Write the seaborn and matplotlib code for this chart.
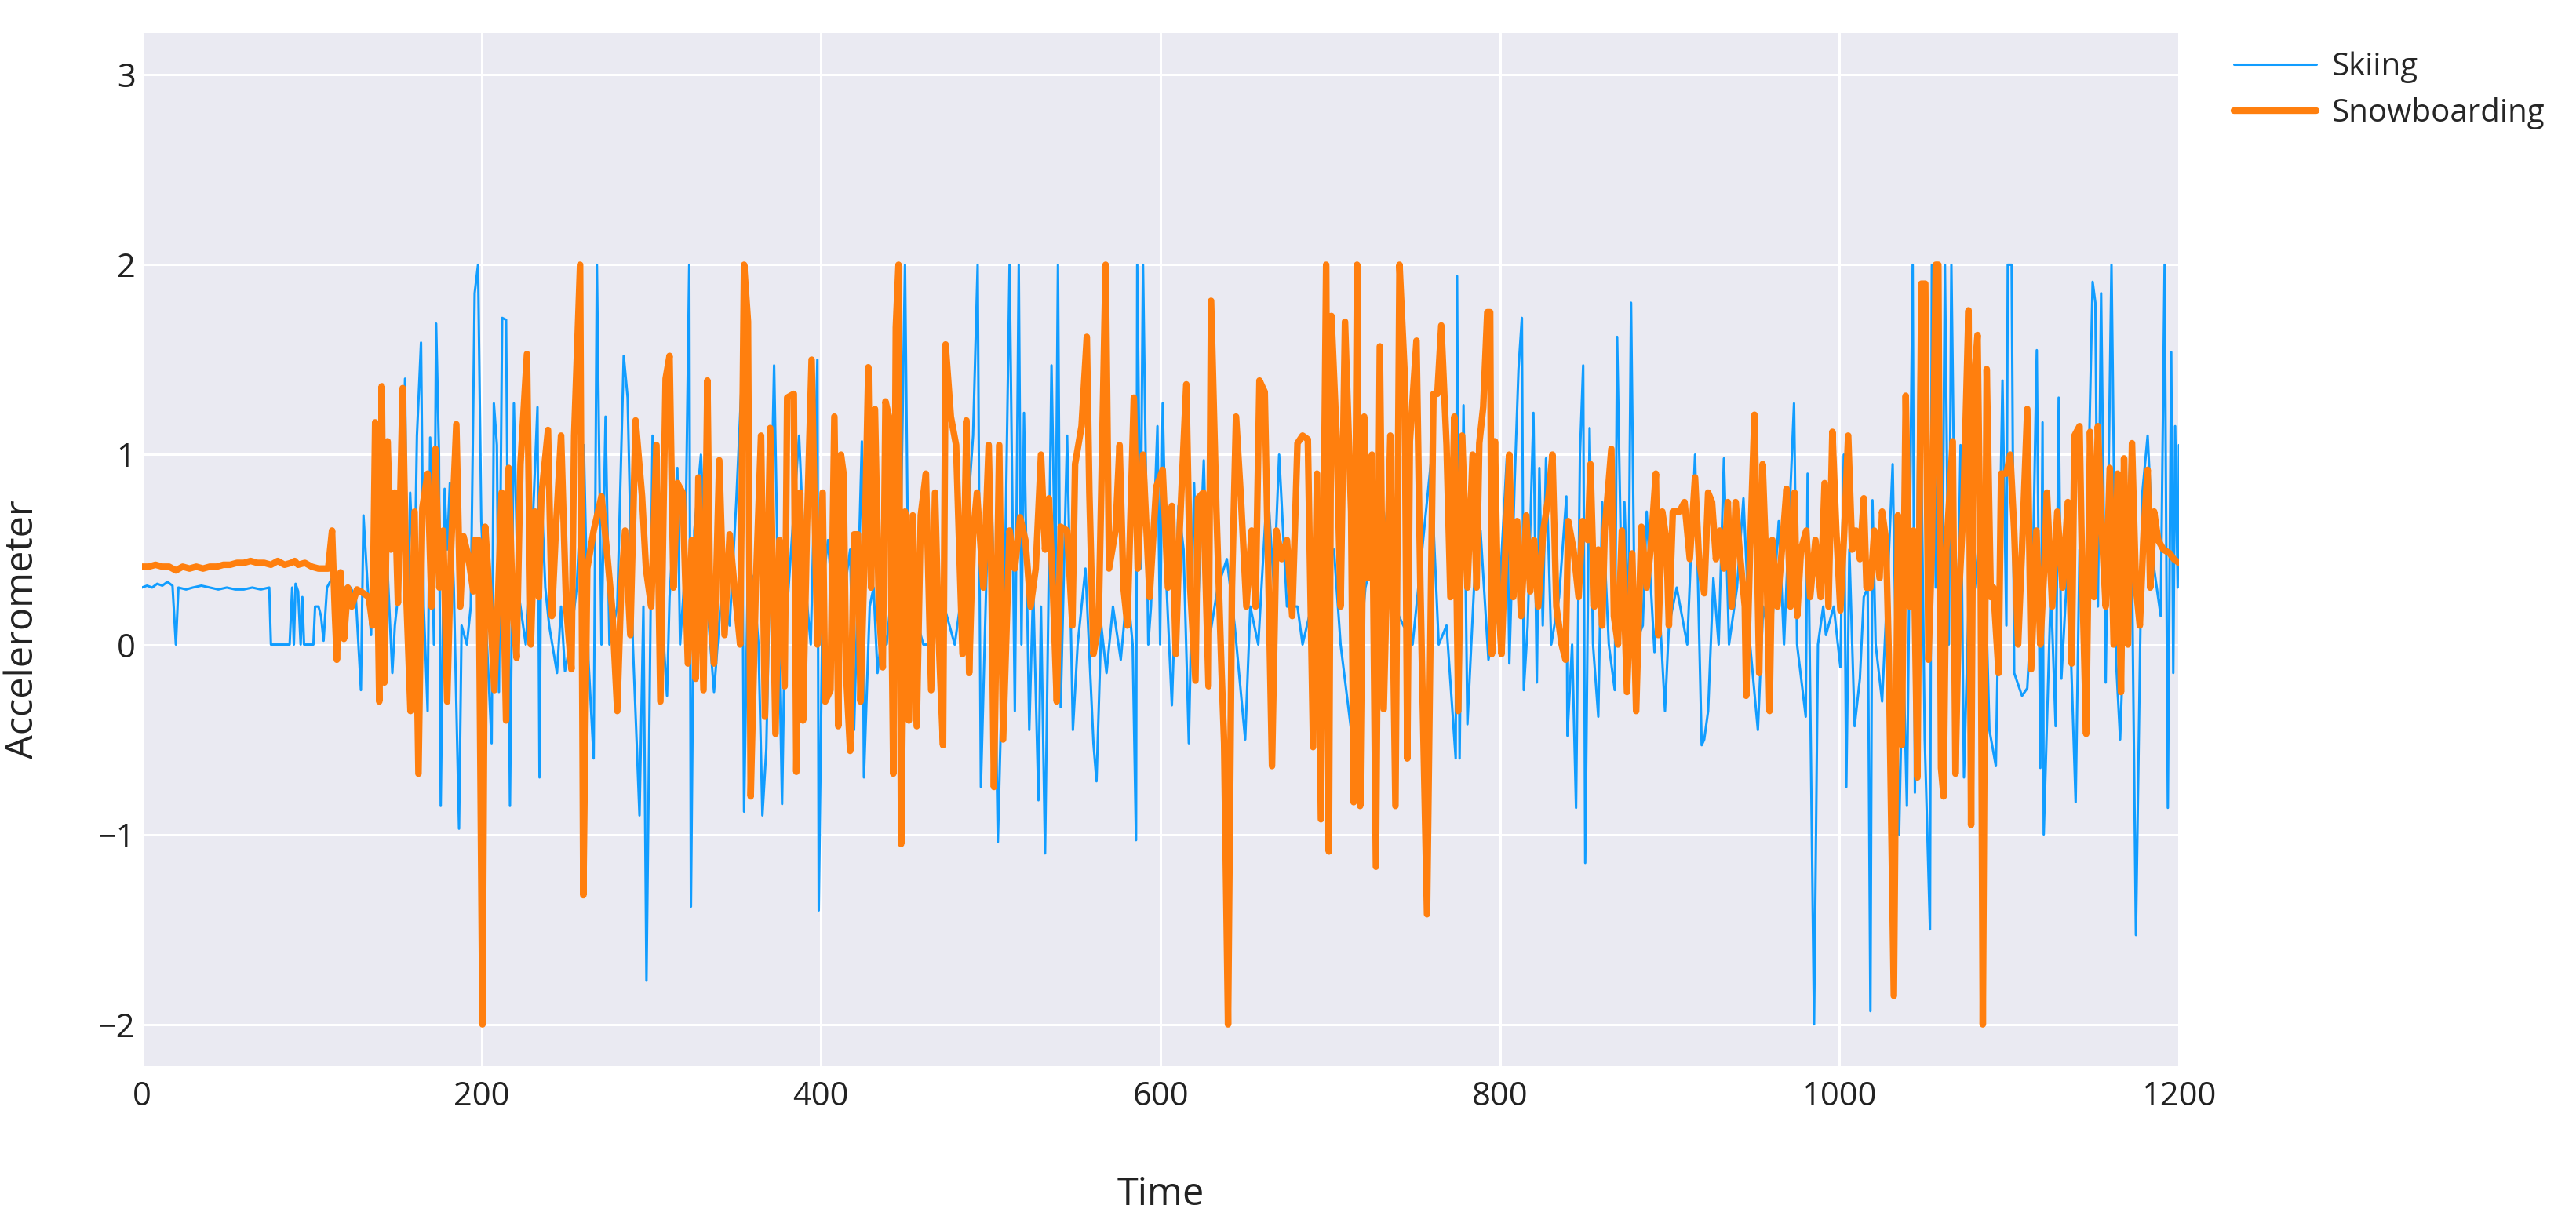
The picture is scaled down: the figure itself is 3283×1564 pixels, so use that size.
import matplotlib.pyplot as plt
import pandas as pd
import seaborn as sns

# (time, accelerometer) pairs
skiing = [
    (0, .30), (3, .31), (6, .30), (9, .32), (12, .31), (15, .33), (18, .31), (20, 0.0), (21.5, .30),
    (26, .29), (30, .30), (35, .31), (40, .30), (45, .29), (50, .30), (55, .29), (60, .29), (65, .30),
    (70, .29), (75, .30), (76, 0.0), (87, 0.0), (88.5, .30), (89.5, 0.0), (90.5, .32), (92, .28),
    (93.5, 0.0), (94.5, .25), (95.5, 0.0), (101, 0.0), (102, .20), (104, .20), (105.5, .15), (107, .02),
    (109, .30), (112, .35), (116, .25), (119, .3), (122.8, .30), (126, .25), (129, -.24), (130.5, .68),
    (133, .3), (135, .05), (136, .5), (140.5, .15), (143.6, .6), (147.5, -.15), (149, .1), (152, .35),
    (155, 1.4), (156.4, 0.0), (158, .8), (160.5, .25), (162, 1.1), (164.4, 1.59), (166, .2), (168.3, -.35),
    (169.8, 1.09), (172, 0.0), (173.3, 1.69), (175, 1.0), (176, -.85), (178.3, .82), (179.8, .5),
    (181.4, .85), (183.7, .3), (186.8, -.97), (188.3, .1), (191.4, 0.0), (193.7, .2), (196, 1.85),
    (198, 2.0), (199.9, .65), (202.2, .2), (206, -.52), (207.3, 1.27), (209.1, 1.05), (210.3, -.25),
    (212.2, 1.72), (214.5, 1.71), (216.8, -.85), (219.1, 1.27), (221.4, .3), (226.1, 0.0), (229.1, .4),
    (233, 1.25), (234.2, -.7), (235.3, .8), (237.6, .3), (239.9, .1), (244.5, -.15), (246.9, .2),
    (249.2, -.14), (252.2, 0.0), (256.1, .3), (260.3, 1.05), (263, -.08), (266.1, -.6), (268, 2.0),
    (270.7, 0.0), (273.1, 1.2), (275.4, 0.0), (280, .2), (283.8, 1.52), (286.1, 1.3), (289.2, 0.0),
    (293.1, -.9), (295.4, .2), (297.2, -1.77), (300.8, 1.1), (304.6, .4), (309.3, -.27), (310.8, .25),
    (315.4, .93), (317, 0.0), (320, .4), (322.4, 2.0), (323.4, -1.38), (325.4, .6), (329.3, 1.0),
    (333.1, .2), (337, -.25), (341.6, .3), (346.2, .1), (350.1, .75), (353.2, 1.37), (354.7, -.88),
    (357, .4), (360.1, .35), (363.2, 0.0), (365.5, -.9), (367.8, -.55), (372.4, 1.47), (374.7, .3),
    (377.1, -.84), (378.6, 0.0), (383.2, .6), (387.1, 1.1), (391, .3), (394, 0.0), (397.9, 1.5),
    (398.7, -1.4), (401, .3), (404.1, .55), (407.1, .2), (411, 0.0), (414.1, .3), (417.2, .5),
    (419.5, -.45), (421.8, .3), (424.1, 1.07), (425.3, -.7), (428.7, .2), (431, .3), (433.3, -.15),
    (436.4, .1), (438.7, 0.0), (441.8, .3), (444.1, 0.0), (447.2, .7), (449.5, 2.0), (451.1, .6),
    (454.1, .2), (460.3, 0.0), (464.9, 0.0), (469.5, .3), (475.7, .1), (478.8, 0.0), (483.4, .3),
    (489.6, 1.1), (492.3, 2.0), (494.2, -.75), (497.3, .3), (499.6, 1.06), (501.9, .3), (504.2, -1.04),
    (505.8, -.48), (508.1, .2), (511.1, 2.0), (514.2, -.35), (516.5, 2.0), (518.1, 0.0), (519.6, 1.22),
    (522.7, -.45), (525, .3), (528.1, -.82), (529.6, .2), (532, -1.1), (535.8, 1.47), (538.1, .3),
    (539.6, 2.0), (541.2, -.33), (545, 1.1), (548.4, -.45), (551.2, 0.0), (555.8, .4), (560.5, -.52),
    (562.3, -.72), (565.1, .1), (568.2, -.15), (572, .2), (576.6, -.08), (580.5, .3), (583.6, 0.0),
    (585.6, -1.03), (586.3, 2.0), (588.2, .4), (589.7, 2.0), (592.8, 0.0), (594.4, .2), (598.2, 1.15),
    (599.8, 0.0), (601.3, 1.27), (603.6, .3), (606.7, -.32), (610.6, .73), (613.6, .5), (616.7, -.52),
    (619.8, .85), (622.1, .2), (625.5, .97), (628.3, 0.0), (633.7, .3), (639.1, .45), (643.7, .1),
    (649.9, -.5), (652.9, .2), (657.6, 0.0), (663, .85), (666.8, .3), (669.9, 1.0), (674.5, .2),
    (680.7, .2), (683.7, 0.0), (691.5, .3), (702.2, .5), (706.1, 0.0), (713, -.5), (720.7, .3),
    (731.5, .7), (737.7, .2), (748.5, 0.0), (759.2, .95), (763.9, 0.0), (768.5, .1), (773.9, -.6),
    (774.7, 1.94), (776.2, -.6), (778.5, 1.26), (780.8, -.42), (784.7, .3), (788.5, .6), (793.2, -.08),
    (799.3, .2), (804, .98), (805.5, -.1), (808.6, .85), (810.9, 1.45), (812.9, 1.72), (814, -.24),
    (816.3, .1), (819.7, 1.22), (821.7, -.2), (823.2, .93), (825.2, .1), (827.1, .98), (830.2, 0.0),
    (834.8, .25), (839.1, .78), (839.7, -.48), (842.5, 0.0), (844.8, -.86), (847.1, 1.0), (849, 1.47),
    (850.2, -1.15), (852.8, 1.14), (854.8, 0.0), (857.9, -.38), (860.2, .75), (864.1, 0.0), (867.6, -.24),
    (869, 1.62), (871.8, .2), (873.3, .75), (875.6, .1), (877.2, 1.8), (879.5, 0.0), (884.1, .1),
    (886.4, .7), (891, -.04), (893.3, .3), (897.2, -.35), (899.5, .1), (904.1, .3), (910.3, 0.0),
    (914.9, 1.0), (918.8, -.53), (920.3, -.5), (922.6, -.35), (925.7, .35), (928.8, 0.0), (931.9, .98),
    (934.9, 0.0), (939.6, .3), (943.4, .77), (947.3, 0.0), (951.9, -.45), (955, .2), (959.6, 0.0),
    (964.2, .65), (967.3, 0.0), (973.2, 1.27), (975, 0.0), (980.1, -.38), (981.2, .9), (985, -2.0),
    (987.3, 0.0), (990.4, .2), (992, .05), (996.6, .2), (1000.5, -.12), (1002.5, 1.0), (1004, -.75),
    (1005.8, .5), (1008.9, -.43), (1012, -.18), (1014.3, .25), (1016.6, .3), (1018.2, -1.93),
    (1019.4, .76), (1021.3, 0.0), (1025.1, -.3), (1028.2, .3), (1031.3, .95), (1035.1, -1.0),
    (1037.4, 0.0), (1039.7, -.85), (1043.1, 2.0), (1044.4, -.78), (1047.1, 1.79), (1050.2, -.5),
    (1053.3, -1.5), (1054.4, 2.0), (1056.7, .3), (1059, 2.0), (1060.5, .2), (1062.1, 2.0), (1064.4, 0.0),
    (1065.9, 2.0), (1069, -.25), (1071.3, 1.05), (1073.3, -.7), (1076, .2), (1079.8, .3), (1084.4, .83),
    (1088.3, -.45), (1092.1, -.64), (1096, 1.39), (1098.3, .1), (1099.1, 2.0), (1101.4, 2.0),
    (1102.9, -.15), (1107.5, -.27), (1110.6, -.23), (1113.7, .3), (1116.2, 1.55), (1118.3, -.65),
    (1119.6, 1.17), (1120.3, -1.0), (1124.5, .3), (1127.3, -.43), (1129.1, 1.3), (1130.7, -.18),
    (1134.5, .45), (1139.1, -.83), (1141.4, .5), (1144.5, 0.0), (1149.1, 1.91), (1150.7, 1.8),
    (1152.2, .2), (1154.1, 1.85), (1156.8, -.2), (1160.2, 2.0), (1163, -.1), (1165.3, -.5), (1168.4, .3),
    (1171.5, 1.06), (1174.6, -1.53), (1178.4, .8), (1181.5, 1.1), (1185.3, .4), (1189.2, .15),
    (1191.5, 2.0), (1193.4, -.86), (1195.4, 1.54), (1196.6, -.15), (1197.7, 1.15), (1199.2, .3),
    (1200, 1.05),
]

snowboarding = [
    (0, .41), (4, .41), (8, .42), (12, .41), (16, .41), (20, .39), (24, .41), (28, .40), (32, .41),
    (36, .40), (40, .41), (44, .41), (48, .42), (52, .42), (56, .43), (60, .43), (64, .44), (68, .43),
    (72, .43), (76, .42), (80, .44), (84, .42), (88, .43), (90, .44), (92, .42), (96, .43), (100, .41),
    (104, .40), (108, .40), (109.7, .40), (112, .6), (113.6, .18), (114.8, -.08), (117, .38), (119, .03),
    (121.3, .3), (123.6, .2), (126.7, .29), (130.5, .27), (133.6, .25), (135.9, .1), (137.4, 1.17),
    (139.8, -.3), (141.3, 1.36), (142.8, -.2), (144.7, 1.07), (146.7, .5), (149, .8), (150.8, .22),
    (153.6, 1.35), (155.9, .22), (158.2, -.35), (160.6, .7), (162.9, -.68), (165.2, .72), (168.3, .9),
    (170.6, .2), (172.9, 1.03), (175.2, .3), (177.5, .6), (179.8, -.3), (182.1, .5), (185.2, 1.16),
    (187.5, .2), (189.4, .57), (192.1, .47), (195.2, .28), (196, .55), (198.3, .55), (200.6, -2.0),
    (202.2, .62), (204.5, .3), (207.6, -.24), (209.9, .28), (211.9, .8), (214.5, -.4), (216, .93),
    (218.4, .2), (220.7, -.07), (223, .95), (226.8, 1.53), (229.1, 0.0), (231.5, .7), (233.8, .25),
    (235.3, .78), (239.2, 1.13), (241.5, .15), (243.8, .6), (246.9, 1.1), (249.9, .2), (253, -.13),
    (254.6, 1.1), (258.1, 2.0), (260, -1.32), (262.3, .4), (266.1, .6), (270.7, .78), (273.8, .5),
    (276.9, .2), (280, -.35), (282.3, .3), (284.6, .6), (287.7, .05), (290.8, 1.18), (294.6, .78),
    (296.9, .4), (300, .2), (303.1, 1.05), (305.4, -.3), (308.5, 1.4), (310.8, 1.52), (313.1, .3),
    (315.4, .85), (318.5, .8), (321.6, -.1), (323.9, .55), (326.2, -.18), (327.8, .88), (330.8, -.24),
    (333.1, 1.39), (334.7, .2), (337, -.1), (340.1, .97), (343.2, .05), (346.2, .58), (349.3, .28),
    (352.4, 0.0), (354.7, 2.0), (357, 1.7), (358.6, -.8), (361.6, .3), (364.7, 1.1), (367, -.38),
    (370.1, 1.14), (373.2, -.47), (375.5, .55), (378.6, -.22), (380.1, 1.3), (384, 1.32), (385.5, -.67),
    (387.8, .8), (389.4, -.4), (391.7, .6), (394.5, 1.5), (397.9, 0.0), (401, .8), (402.5, -.3),
    (405.6, -.24), (407.9, 1.2), (410.2, -.43), (411.8, 1.0), (413.3, .9), (414.8, -.15), (417.2, -.56),
    (419.5, .58), (421.8, .58), (423.3, -.3), (425.6, .45), (427.9, 1.46), (429.5, .3), (431.8, 1.24),
    (434.1, .2), (436.4, -.12), (438, 1.28), (440.3, 1.19), (442.6, -.68), (444.1, 1.67), (445.7, 2.0),
    (447.2, -1.05), (449.5, .7), (451.8, -.4), (454.1, .68), (456.4, -.43), (458.8, .68), (461.8, .9),
    (464.9, -.24), (467.2, .8), (469.5, 0.0), (471.9, -.53), (473.4, 1.58), (476.5, 1.2), (479.6, 1.05),
    (483.4, -.05), (485.7, 1.18), (487.3, -.15), (489.6, .58), (491.9, .8), (495.7, .3), (498.8, 1.05),
    (500.4, .35), (501.9, -.75), (505, 1.05), (507.3, -.5), (511.1, .6), (514.2, .4), (517.3, .67),
    (520.4, .55), (523.5, .2), (526.5, .4), (529.6, 1.0), (532, .5), (534.3, .77), (536.6, .3),
    (538.9, -.3), (541.2, .62), (545, .6), (548.1, .1), (549.7, .95), (553.5, 1.15), (556.6, 1.62),
    (558.1, .8), (560.5, -.05), (563.5, .1), (565.1, .8), (567.7, 2.0), (569.7, .4), (573.5, .6),
    (575.9, 1.05), (578.2, .3), (580.5, .1), (584.3, 1.3), (586.6, .4), (589.7, 1.0), (593.6, .25),
    (597.5, .83), (601.3, .92), (604.4, .3), (606.7, .73), (609, -.05), (611.3, .6), (615.2, 1.37),
    (617.5, .3), (620.6, -.19), (622.1, .77), (625.2, .8), (628.3, -.22), (629.8, 1.81), (632.9, .72),
    (636, -.15), (637.5, -.52), (639.8, -2.0), (642.1, .3), (644.5, 1.2), (647.5, .75), (650.6, .2),
    (653.7, .6), (656, .2), (658.3, 1.39), (661.4, 1.33), (663.7, .3), (665.7, -.64), (668.3, .6),
    (671.4, .45), (674.5, .55), (677.6, .15), (680.7, 1.06), (683.7, 1.1), (686.8, 1.08), (689.9, -.54),
    (692.2, .9), (694.5, -.92), (697.6, 2.0), (699.2, -1.09), (700.7, 1.73), (703.8, 1.08), (706.1, .2),
    (708.7, 1.7), (712.3, .7), (713.8, -.83), (715.8, 2.0), (717.6, -.85), (720, 1.2), (722.3, .35),
    (724.6, 1.0), (726.9, -1.17), (729.2, 1.57), (731.5, -.34), (735.4, 1.1), (738.4, -.85), (740.8, 2.0),
    (743.8, 1.43), (745.4, -.6), (746.9, 1.07), (750.8, 1.6), (753.1, .3), (757, -1.42), (760.8, 1.32),
    (763.1, 1.32), (765.4, 1.68), (768.5, 1.05), (770.8, .25), (773.1, 1.2), (775.4, -.35), (777.7, 1.1),
    (780.8, .3), (783.9, 1.0), (786.2, .3), (787.8, 1.06), (790.1, 1.25), (792.5, 1.75), (794.2, 1.75),
    (795.2, -.05), (797, 1.07), (798.6, .3), (800.9, -.05), (803.2, .5), (805.5, 1.0), (807.8, .25),
    (810.1, .65), (812.4, .15), (815.5, .68), (817.8, .28), (820.1, .55), (822.5, .2), (825.5, .6),
    (828.6, .78), (830.9, 1.0), (833.2, .2), (836.3, 0.0), (838.6, -.08), (840.2, .65), (843.3, .5),
    (846.3, .25), (848.6, .65), (851.7, .55), (853.3, .95), (855.6, .2), (857.9, .5), (860.2, .1),
    (861.7, .6), (865.6, 1.03), (867.1, .15), (869.5, 0.0), (871.8, .6), (874.8, -.25), (877.9, .48),
    (880.2, -.35), (883.3, .62), (886.4, .3), (888.7, .5), (891.8, .9), (893.3, .05), (895.6, .7),
    (898, .55), (899.5, .1), (901.8, .7), (905.7, .7), (908.7, .75), (911.8, .45), (914.9, .88),
    (917.2, .45), (920.3, .27), (922.6, .8), (924.9, .75), (927.2, .45), (929.5, .6), (931.9, .4),
    (934.2, .75), (936.5, .2), (938.8, .75), (941.1, .5), (944.2, .2), (945, -.27), (947.3, .5),
    (949.9, 1.21), (952.7, -.15), (954.7, .95), (957.3, .3), (958.8, -.35), (960.4, .55), (963.4, .2),
    (966.5, .55), (968.8, .82), (971.1, .2), (973.5, .8), (975, .15), (977.3, .5), (980.4, .6),
    (982.7, .25), (985.8, .55), (988.9, .25), (991.2, .85), (993.5, .2), (995.8, 1.12), (998.1, .6),
    (1000.5, .18), (1002.8, .6), (1005.1, 1.1), (1007.4, .5), (1009.7, .6), (1012, .45), (1014.3, .77),
    (1015.9, .3), (1018.2, .3), (1020.5, .6), (1023.6, .35), (1025.1, .7), (1027.4, .55), (1029, -.05),
    (1032, -1.85), (1034.4, .68), (1036.7, -.53), (1039, 1.31), (1041.3, .2), (1043.6, .6), (1045.9, -.7),
    (1048.2, 1.9), (1050.5, 1.9), (1052.4, -.08), (1054.4, .5), (1056.7, 2.0), (1058.2, 2.0),
    (1059.8, -.65), (1061.3, -.8), (1062.9, .5), (1066.7, 1.07), (1068.3, -.68), (1070.6, .3),
    (1072.9, .7), (1076, 1.76), (1077.5, -.95), (1079, 1.35), (1081.3, 1.63), (1083.2, .3), (1084.4, -2.0),
    (1086.7, 1.45), (1089.1, .25), (1090.6, .3), (1093.7, -.15), (1095.2, .9), (1098.3, .9), (1100.6, 1.0),
    (1102.9, .6), (1105.2, 0.0), (1107.5, .5), (1110.6, 1.24), (1112.9, -.13), (1116, .6), (1118.3, 0.0),
    (1120.6, .4), (1122.2, .8), (1125.3, .2), (1128.3, .7), (1131.4, .3), (1134.5, .75), (1136.8, -.1),
    (1138.4, 1.1), (1141.4, 1.15), (1143, .35), (1145.3, -.47), (1147.6, 1.12), (1149.9, .25),
    (1152.2, 1.15), (1154.5, .6), (1156.8, .2), (1159.2, .93), (1161.5, 0.0), (1163.8, .9), (1165.8, -.25),
    (1167.6, .98), (1169.9, 0.0), (1172.3, 1.06), (1174.6, .3), (1176.9, .1), (1179.2, .6), (1181.5, .92),
    (1183, .3), (1185.3, .7), (1187.7, .55), (1190.8, .5), (1194.6, .48), (1196.9, .45), (1200, .43),
]

x_ticks = [0, 200, 400, 600, 800, 1000, 1200]
y_ticks = [-2, -1, 0, 1, 2, 3]

sns.set_style('darkgrid')
plt.rcParams['font.family'] = ['Open Sans', 'DejaVu Sans']

df = pd.concat([
    pd.DataFrame(skiing, columns=['Time', 'Accelerometer']).assign(Activity='Skiing'),
    pd.DataFrame(snowboarding, columns=['Time', 'Accelerometer']).assign(Activity='Snowboarding'),
], ignore_index=True)

fig = plt.figure(figsize=(32.83, 15.64), dpi=100)
ax = fig.add_axes([0.0551, 0.1311, 0.7908, 0.842])

sns.lineplot(data=df, x='Time', y='Accelerometer', hue='Activity', size='Activity',
             hue_order=['Skiing', 'Snowboarding'],
             palette={'Skiing': '#119DFF', 'Snowboarding': '#FF7F0E'},
             sizes={'Skiing': 2.2, 'Snowboarding': 6.0},
             estimator=None, sort=False, ax=ax)

ax.set_xlim(0, 1200)
ax.set_ylim(-2.22, 3.22)
ax.set_xticks(x_ticks)
ax.set_yticks(y_ticks)
ax.grid(color='white', linewidth=2.2)
for s in ax.spines.values():
    s.set_visible(False)
ax.tick_params(axis='both', labelsize=30, length=0, colors='#222222')
ax.tick_params(axis='x', pad=13)
ax.tick_params(axis='y', pad=6)

ax.set_xlabel('Time', fontsize=35, color='#222222')
ax.set_ylabel('Accelerometer', fontsize=35, color='#222222')
ax.xaxis.set_label_coords(0.5, -0.1245)
ax.xaxis.label.set_va('center')
ax.yaxis.set_label_coords(-0.0586, 0.423)
ax.yaxis.label.set_va('center')

handles, labels = ax.get_legend_handles_labels()
ax.legend(handles, labels, loc='upper left', bbox_to_anchor=(0.8672, 0.958),
          bbox_transform=fig.transFigure, frameon=False, fontsize=29,
          handlelength=2.6, handletextpad=0.5, borderpad=0, borderaxespad=0,
          labelspacing=0.45)

fig.savefig('out.png', dpi=100, facecolor='white')
